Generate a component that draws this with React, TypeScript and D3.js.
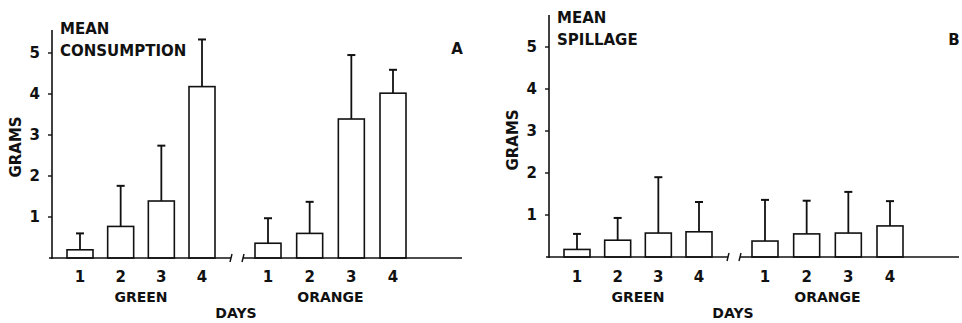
import React, { useEffect, useRef } from "react";
import * as d3 from "d3";

// values (grams)
const days = ["1", "2", "3", "4"];
const yTicks = [1, 2, 3, 4, 5];

const consumptionGreen = [0.2, 0.77, 1.39, 4.18];
const consumptionGreenErr = [0.4, 0.99, 1.35, 1.15];
const consumptionOrange = [0.36, 0.6, 3.39, 4.02];
const consumptionOrangeErr = [0.61, 0.77, 1.56, 0.57];

const spillageGreen = [0.18, 0.4, 0.57, 0.6];
const spillageGreenErr = [0.37, 0.53, 1.33, 0.71];
const spillageOrange = [0.38, 0.55, 0.57, 0.74];
const spillageOrangeErr = [0.98, 0.79, 0.98, 0.59];

const FONT = "'DejaVu Sans', sans-serif";
const INK = "#111";

function drawPanel(svg, p) {
  const g = svg.append("g");
  const { ox, base, pxPerGram, axisTop } = p;

  const y = d3.scaleLinear().domain([0, 5]).range([base, base - 5 * pxPerGram]);
  const xGreen = d3.scalePoint().domain(days).range([ox + 28, ox + 150]);
  const xOrange = d3.scalePoint().domain(days).range([ox + 216, ox + 341]);
  const barW = 26;

  // y axis line
  g.append("line")
    .attr("x1", ox).attr("x2", ox)
    .attr("y1", axisTop).attr("y2", base + 1)
    .attr("stroke", INK).attr("stroke-width", 1.6);

  // y ticks + labels
  yTicks.forEach((t) => {
    g.append("line")
      .attr("x1", ox - 4).attr("x2", ox)
      .attr("y1", y(t)).attr("y2", y(t))
      .attr("stroke", INK).attr("stroke-width", 1.4);
    g.append("text")
      .attr("x", ox - 12).attr("y", y(t) + 5)
      .attr("text-anchor", "end")
      .attr("font-size", 15).attr("font-weight", "bold")
      .attr("font-family", FONT).attr("fill", INK)
      .text(t);
  });

  // baseline, broken between groups
  const segs = [[ox - 3, ox + 179], [ox + 191, ox + 410]];
  segs.forEach(([a, b]) => {
    g.append("line")
      .attr("x1", a).attr("x2", b)
      .attr("y1", base).attr("y2", base)
      .attr("stroke", INK).attr("stroke-width", 1.6);
  });
  // break marks
  [ox + 179, ox + 191].forEach((bx) => {
    g.append("line")
      .attr("x1", bx - 1).attr("x2", bx + 1)
      .attr("y1", base + 4).attr("y2", base - 4)
      .attr("stroke", INK).attr("stroke-width", 1.4);
  });

  const groups = [
    { x: xGreen, vals: p.green, errs: p.greenErr, label: "GREEN" },
    { x: xOrange, vals: p.orange, errs: p.orangeErr, label: "ORANGE" },
  ];

  groups.forEach((grp) => {
    days.forEach((d, i) => {
      const cx = grp.x(d);
      const top = y(grp.vals[i]);
      const errTop = y(grp.vals[i] + grp.errs[i]);
      // error bar (upper only)
      g.append("line")
        .attr("x1", cx).attr("x2", cx)
        .attr("y1", top).attr("y2", errTop)
        .attr("stroke", INK).attr("stroke-width", 1.8);
      g.append("line")
        .attr("x1", cx - 4).attr("x2", cx + 4)
        .attr("y1", errTop).attr("y2", errTop)
        .attr("stroke", INK).attr("stroke-width", 2);
      // bar
      g.append("rect")
        .attr("x", cx - barW / 2).attr("y", top)
        .attr("width", barW).attr("height", base - top)
        .attr("fill", "none")
        .attr("stroke", INK).attr("stroke-width", 1.6);
      // day label
      g.append("text")
        .attr("x", cx).attr("y", 282)
        .attr("text-anchor", "middle")
        .attr("font-size", 15).attr("font-weight", "bold")
        .attr("font-family", FONT).attr("fill", INK)
        .text(d);
    });
    const mid = (grp.x(days[0]) + grp.x(days[3])) / 2;
    g.append("text")
      .attr("x", mid).attr("y", 302)
      .attr("text-anchor", "middle")
      .attr("font-size", 14).attr("font-weight", "bold")
      .attr("font-family", FONT).attr("fill", INK)
      .text(grp.label);
  });

  // DAYS
  g.append("text")
    .attr("x", ox + 184).attr("y", 318)
    .attr("text-anchor", "middle")
    .attr("font-size", 14).attr("font-weight", "bold")
    .attr("font-family", FONT).attr("fill", INK)
    .text("DAYS");

  // GRAMS
  g.append("text")
    .attr("transform", `translate(${ox - 31},${p.gramsY}) rotate(-90)`)
    .attr("text-anchor", "middle")
    .attr("font-size", 15).attr("font-weight", "bold")
    .attr("font-family", FONT).attr("fill", INK)
    .text("GRAMS");

  // title
  p.title.forEach((line, i) => {
    g.append("text")
      .attr("x", ox + 8).attr("y", p.titleY + i * 22)
      .attr("font-size", 15).attr("font-weight", "bold")
      .attr("font-family", FONT).attr("fill", INK)
      .text(line);
  });

  // panel letter
  g.append("text")
    .attr("x", ox + 405).attr("y", p.letterY)
    .attr("text-anchor", "middle")
    .attr("font-size", 15).attr("font-weight", "bold")
    .attr("font-family", FONT).attr("fill", INK)
    .text(p.letter);
}

const App = () => {
  const svgRef = useRef(null);

  useEffect(() => {
    const svg = d3.select(svgRef.current);
    svg.selectAll("*").remove();

    drawPanel(svg, {
      ox: 52, base: 258, pxPerGram: 41, axisTop: 30,
      green: consumptionGreen, greenErr: consumptionGreenErr,
      orange: consumptionOrange, orangeErr: consumptionOrangeErr,
      title: ["MEAN", "CONSUMPTION"], titleY: 34,
      letter: "A", letterY: 54, gramsY: 147,
    });

    drawPanel(svg, {
      ox: 549, base: 257, pxPerGram: 42, axisTop: 15,
      green: spillageGreen, greenErr: spillageGreenErr,
      orange: spillageOrange, orangeErr: spillageOrangeErr,
      title: ["MEAN", "SPILLAGE"], titleY: 23,
      letter: "B", letterY: 45, gramsY: 140,
    });

    return () => {
      svg.selectAll("*").remove();
    };
  }, []);

  return (
    <svg
      ref={svgRef}
      width={962}
      height={323}
      style={{ position: "absolute", left: 0, top: 0, background: "#fff" }}
    />
  );
};

export default App;
